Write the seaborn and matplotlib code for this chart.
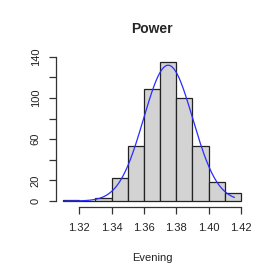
import numpy as np
import pandas as pd
import matplotlib
matplotlib.use("Agg")
import matplotlib.pyplot as plt
import seaborn as sns

# Data
bin_edges = [1.31, 1.32, 1.33, 1.34, 1.35, 1.36, 1.37, 1.38, 1.39, 1.40, 1.41, 1.42]
counts = [1, 0, 3, 22, 53, 109, 135, 100, 53, 18, 8]
fit_mean = 1.375
fit_sd = 0.0152
n_obs = 502
curve_from = 1.311
curve_to = 1.416
x_ticks = [1.32, 1.34, 1.36, 1.38, 1.40, 1.42]
x_tick_labels = ["1.32", "1.34", "1.36", "1.38", "1.40", "1.42"]
y_ticks = [0, 20, 40, 60, 80, 100, 120, 140]
y_tick_labels = ["0", "20", "", "60", "", "100", "", "140"]
title = "Power"
xlabel = "Evening"

sns.set_style("white")
plt.rcParams["font.family"] = ["Liberation Sans", "DejaVu Sans"]

fig = plt.figure(figsize=(2.77, 2.77), dpi=100)
ax = fig.add_axes([0.2022, 0.2542, 0.8953 - 0.2022, 0.7968 - 0.2542])

centers = [(a + b) / 2 for a, b in zip(bin_edges[:-1], bin_edges[1:])]
df = pd.DataFrame({"x": centers, "w": counts})
sns.histplot(data=df, x="x", weights="w", bins=bin_edges, ax=ax,
             color="#D3D3D3", edgecolor="#222222", linewidth=0.9, alpha=1)

binw = bin_edges[1] - bin_edges[0]
xs = np.linspace(curve_from, curve_to, 200)
ys = n_obs * binw * np.exp(-0.5 * ((xs - fit_mean) / fit_sd) ** 2) / (fit_sd * np.sqrt(2 * np.pi))
sns.lineplot(x=xs, y=ys, ax=ax, color="#2b2bff", linewidth=0.9)

xr = bin_edges[-1] - bin_edges[0]
ax.set_xlim(bin_edges[0] - 0.04 * xr, bin_edges[-1] + 0.04 * xr)
ymax = max(counts)
ax.set_ylim(-0.04 * ymax, ymax * 1.04)

for s in ["top", "right"]:
    ax.spines[s].set_visible(False)
ax.spines["left"].set_bounds(y_ticks[0], y_ticks[-1])
ax.spines["bottom"].set_bounds(x_ticks[0], x_ticks[-1])
for s in ["left", "bottom"]:
    ax.spines[s].set_color("#333333")
    ax.spines[s].set_linewidth(0.9)

ax.set_xticks(x_ticks)
ax.set_xticklabels(x_tick_labels)
ax.set_yticks(y_ticks)
ax.set_yticklabels(y_tick_labels, rotation=90, va="center")
ax.tick_params(axis="both", direction="out", length=5, width=0.9, color="#333333",
               labelsize=8, labelcolor="#222222", bottom=True, left=True)
ax.tick_params(axis="x", pad=7)
ax.tick_params(axis="y", pad=6)

ax.set_xlabel(xlabel, fontsize=8, color="#222222", labelpad=14)
ax.set_ylabel("")
ax.set_title(title, fontsize=10, fontweight="bold", pad=17)

fig.savefig("out.png", dpi=100)
